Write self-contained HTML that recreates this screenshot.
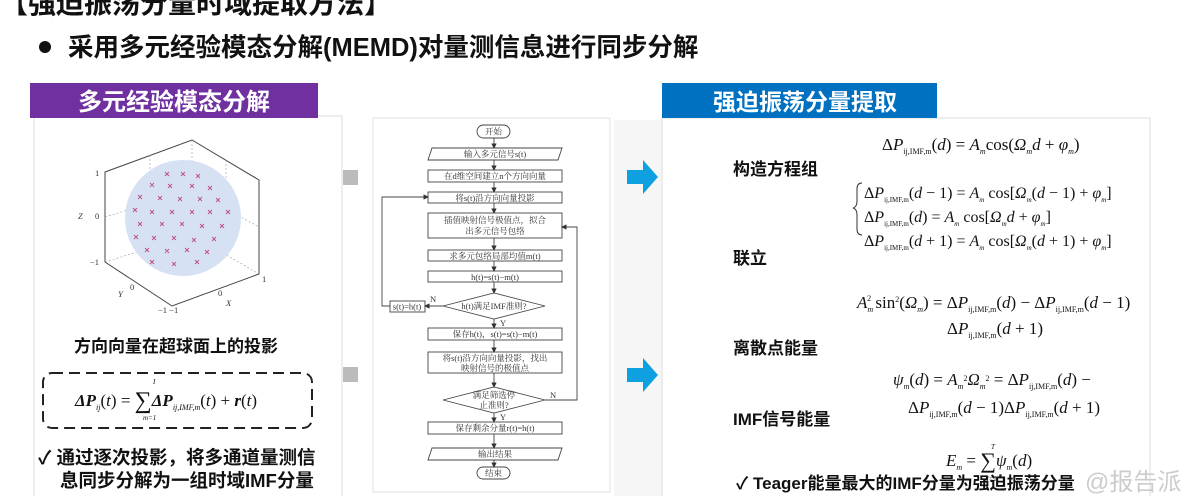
<!DOCTYPE html>
<html><head><meta charset="utf-8"><style>
body{margin:0;width:1200px;height:496px;overflow:hidden;background:#fff;font-family:"Liberation Sans","Noto Sans CJK SC",sans-serif;}
svg{display:block}
.b{font-family:"Liberation Sans","Noto Sans CJK SC",sans-serif;font-weight:bold;fill:#111}
.m{font-family:"Liberation Serif","Noto Serif CJK SC",serif;fill:#111}
.f{font-family:"Liberation Serif","Noto Serif CJK SC",serif;font-size:8.5px;fill:#333}
.bx{fill:#fff;stroke:#444;stroke-width:0.9}
.ln{stroke:#444;stroke-width:0.9;fill:none}
</style></head><body>
<svg width="1200" height="496" viewBox="0 0 1200 496" xmlns="http://www.w3.org/2000/svg">
<defs>
<marker id="ar" markerWidth="6" markerHeight="6" refX="5" refY="3" orient="auto"><path d="M0,0 L6,3 L0,6z" fill="#333"/></marker>
</defs>
<!-- header -->
<text class="b" x="0" y="13" font-size="28">【强迫振荡分量时域提取方法】</text>
<circle cx="45" cy="47" r="6" fill="#111"/>
<text class="b" x="68" y="56" font-size="25.5">采用多元经验模态分解(MEMD)对量测信息进行同步分解</text>

<!-- left panel -->
<rect x="34" y="116" width="308" height="385" fill="#fff" stroke="#ddd"/>
<rect x="30" y="83" width="288" height="35" fill="#7030a0"/>
<text x="174" y="110" text-anchor="middle" font-size="24" font-weight="bold" fill="#fff" font-family="Liberation Sans,Noto Sans CJK SC,sans-serif">多元经验模态分解</text>
<!-- cube -->
<g stroke="#444" stroke-width="1" fill="none">
<path d="M105,172 L192,140 L259,180 L259,274 L172,306 L105,262 Z"/>
</g>
<g stroke="#999" stroke-width="0.6" stroke-dasharray="2,2" fill="none">
<path d="M192,140 L192,235 L105,262 M192,235 L259,274 M150,155 L150,250 M226,160 L226,255 M105,217 L192,190 L259,227"/>
</g>
<circle cx="183" cy="218" r="58" fill="#d6e2f3"/>
<g stroke="#c05080" stroke-width="0.9" fill="none">
<path d="M165,172l4,4m0-4l-4,4 M181,172l4,4m0-4l-4,4 M196,174l4,4m0-4l-4,4 M150,183l4,4m0-4l-4,4 M168,184l4,4m0-4l-4,4 M190,184l4,4m0-4l-4,4 M208,186l4,4m0-4l-4,4 M138,195l4,4m0-4l-4,4 M158,196l4,4m0-4l-4,4 M178,197l4,4m0-4l-4,4 M198,197l4,4m0-4l-4,4 M216,198l4,4m0-4l-4,4 M133,208l4,4m0-4l-4,4 M150,210l4,4m0-4l-4,4 M170,210l4,4m0-4l-4,4 M190,210l4,4m0-4l-4,4 M208,210l4,4m0-4l-4,4 M226,210l4,4m0-4l-4,4 M138,222l4,4m0-4l-4,4 M160,222l4,4m0-4l-4,4 M180,222l4,4m0-4l-4,4 M200,224l4,4m0-4l-4,4 M220,224l4,4m0-4l-4,4 M134,235l4,4m0-4l-4,4 M152,236l4,4m0-4l-4,4 M172,236l4,4m0-4l-4,4 M192,238l4,4m0-4l-4,4 M212,237l4,4m0-4l-4,4 M145,248l4,4m0-4l-4,4 M165,249l4,4m0-4l-4,4 M185,248l4,4m0-4l-4,4 M205,250l4,4m0-4l-4,4 M150,260l4,4m0-4l-4,4 M172,262l4,4m0-4l-4,4 M195,260l4,4m0-4l-4,4"/>
</g>
<g class="f" font-size="9">
<text x="95" y="176">1</text><text x="95" y="219">0</text><text x="78" y="219" font-style="italic">Z</text>
<text x="90" y="265">−1</text><text x="262" y="282">1</text><text x="218" y="296">0</text><text x="226" y="306" font-style="italic">X</text>
<text x="130" y="290">0</text><text x="118" y="297" font-style="italic">Y</text><text x="158" y="313">−1 −1</text>
</g>
<text class="b" x="176" y="352" font-size="17" text-anchor="middle">方向向量在超球面上的投影</text>
<rect x="43" y="373" width="269" height="55" rx="9" fill="none" stroke="#222" stroke-width="2" stroke-dasharray="11,6"/>
<text class="m" x="75" y="406" font-size="17"><tspan font-weight="bold" font-style="italic">ΔP</tspan><tspan font-size="8" dy="4" font-style="italic">ij</tspan><tspan dy="-4">(</tspan><tspan font-style="italic">t</tspan>) = <tspan font-size="24" dy="2">∑</tspan><tspan dy="-2" font-weight="bold" font-style="italic">ΔP</tspan><tspan font-size="8" dy="4" font-style="italic">ij,IMF,m</tspan><tspan dy="-4">(</tspan><tspan font-style="italic">t</tspan>) + <tspan font-weight="bold" font-style="italic">r</tspan>(<tspan font-style="italic">t</tspan>)</text>
<text class="m" x="153" y="384" font-size="7" font-style="italic">I</text>
<text class="m" x="143" y="420" font-size="7" font-style="italic">m=1</text>
<text class="b" x="38" y="464" font-size="18.5">✓ 通过逐次投影，将多通道量测信</text>
<text class="b" x="60" y="487" font-size="18.5">息同步分解为一组时域IMF分量</text>

<rect x="343" y="170" width="15" height="15" fill="#bbb"/>
<rect x="343" y="367" width="15" height="15" fill="#bbb"/>

<!-- flowchart panel -->
<rect x="373" y="118" width="237" height="374" fill="#fff" stroke="#e2e2e2"/>
<g>
<rect class="bx" x="477" y="125" width="33" height="13" rx="6.5"/><text class="f" x="493.5" y="134.5" text-anchor="middle">开始</text>
<path class="bx" d="M432,148 L562,148 L558,160 L428,160Z"/><text class="f" x="495" y="157" text-anchor="middle">输入多元信号s(t)</text>
<rect class="bx" x="428" y="170" width="134" height="12"/><text class="f" x="495" y="179" text-anchor="middle">在d维空间建立n个方向向量</text>
<rect class="bx" x="428" y="192" width="134" height="11"/><text class="f" x="495" y="201" text-anchor="middle">将s(t)沿方向向量投影</text>
<rect class="bx" x="428" y="213" width="134" height="25"/><text class="f" x="495" y="223" text-anchor="middle">插值映射信号极值点，拟合</text><text class="f" x="495" y="234" text-anchor="middle">出多元信号包络</text>
<rect class="bx" x="428" y="250" width="134" height="11"/><text class="f" x="495" y="259" text-anchor="middle">求多元包络局部均值m(t)</text>
<rect class="bx" x="428" y="271" width="134" height="11"/><text class="f" x="495" y="280" text-anchor="middle">h(t)=s(t)−m(t)</text>
<path class="bx" d="M443,306 L494,293 L545,306 L494,319Z"/><text class="f" x="494" y="309" text-anchor="middle">h(t)满足IMF准则?</text>
<rect class="bx" x="390" y="301" width="35" height="11"/><text class="f" x="407" y="309.5" text-anchor="middle">s(t)=h(t)</text>
<rect class="bx" x="428" y="328" width="134" height="12"/><text class="f" x="495" y="337" text-anchor="middle">保存h(t)，s(t)=s(t)−m(t)</text>
<rect class="bx" x="428" y="352" width="134" height="21"/><text class="f" x="495" y="361" text-anchor="middle">将s(t)沿方向向量投影，找出</text><text class="f" x="495" y="371" text-anchor="middle">映射信号的极值点</text>
<path class="bx" d="M443,400 L494,387 L545,400 L494,413Z"/><text class="f" x="494" y="398" text-anchor="middle">满足筛选停</text><text class="f" x="494" y="408" text-anchor="middle">止准则?</text>
<rect class="bx" x="428" y="422" width="134" height="12"/><text class="f" x="495" y="431" text-anchor="middle">保存剩余分量r(t)=h(t)</text>
<path class="bx" d="M432,448 L562,448 L558,460 L428,460Z"/><text class="f" x="495" y="457" text-anchor="middle">输出结果</text>
<rect class="bx" x="477" y="467" width="33" height="12" rx="6"/><text class="f" x="493.5" y="476" text-anchor="middle">结束</text>
<g class="ln" marker-end="url(#ar)">
<path d="M494,138 V148"/><path d="M494,160 V170"/><path d="M494,182 V192"/><path d="M494,203 V213"/><path d="M494,238 V250"/><path d="M494,261 V271"/><path d="M494,282 V293"/><path d="M494,319 V328"/><path d="M494,340 V352"/><path d="M494,373 V387"/><path d="M494,413 V422"/><path d="M494,434 V448"/><path d="M494,460 V467"/>
<path d="M443,306 H425"/><path d="M390,306 H382 V197 H428"/><path d="M545,400 H577 V227 H562"/>
</g>
<text class="f" x="430" y="302">N</text><text class="f" x="500" y="326">Y</text><text class="f" x="550" y="398">N</text><text class="f" x="500" y="420">Y</text>
</g>

<!-- arrows -->
<rect x="614" y="120" width="48" height="376" fill="#f6f6f6"/>
<path d="M627,170 H643 V160 L658,177 L643,194 V184 H627Z" fill="#0ea0e0"/>
<path d="M627,368 H643 V358 L658,375 L643,392 V382 H627Z" fill="#0ea0e0"/>

<!-- right panel -->
<rect x="662" y="118" width="488" height="380" fill="#fff" stroke="#ddd"/>
<rect x="662" y="83" width="275" height="35" fill="#0070c0"/>
<text x="805" y="110" text-anchor="middle" font-size="23" font-weight="bold" fill="#fff" font-family="Liberation Sans,Noto Sans CJK SC,sans-serif">强迫振荡分量提取</text>
<text class="b" x="733" y="175" font-size="17">构造方程组</text>
<text class="b" x="733" y="264" font-size="17">联立</text>
<text class="b" x="733" y="354" font-size="17">离散点能量</text>
<text class="b" x="733" y="425" font-size="17">IMF信号能量</text>
<g class="m" font-size="17">
<text x="882" y="150">Δ<tspan font-style="italic">P</tspan><tspan font-size="8" dy="4">ij,IMF,m</tspan><tspan dy="-4">(</tspan><tspan font-style="italic">d</tspan>) = <tspan font-style="italic">A</tspan><tspan font-size="8" dy="4" font-style="italic">m</tspan><tspan dy="-4">cos(</tspan><tspan font-style="italic">Ω</tspan><tspan font-size="8" dy="4" font-style="italic">m</tspan><tspan dy="-4" font-style="italic">d</tspan> + <tspan font-style="italic">φ</tspan><tspan font-size="8" dy="4" font-style="italic">m</tspan><tspan dy="-4">)</tspan></text>
<path d="M862,183 q-5,0 -5,6 v12 q0,6 -4,7 q4,1 4,7 v14 q0,6 5,6" fill="none" stroke="#333" stroke-width="1"/>
<text x="864" y="198" font-size="16">Δ<tspan font-style="italic">P</tspan><tspan font-size="7" dy="4">ij,IMF,m</tspan><tspan dy="-4">(</tspan><tspan font-style="italic">d</tspan> − 1) = <tspan font-style="italic">A</tspan><tspan font-size="7" dy="4" font-style="italic">m</tspan><tspan dy="-4"> cos[</tspan><tspan font-style="italic">Ω</tspan><tspan font-size="7" dy="4" font-style="italic">m</tspan><tspan dy="-4">(</tspan><tspan font-style="italic">d</tspan> − 1) + <tspan font-style="italic">φ</tspan><tspan font-size="7" dy="4" font-style="italic">m</tspan><tspan dy="-4">]</tspan></text>
<text x="864" y="222" font-size="16">Δ<tspan font-style="italic">P</tspan><tspan font-size="7" dy="4">ij,IMF,m</tspan><tspan dy="-4">(</tspan><tspan font-style="italic">d</tspan>) = <tspan font-style="italic">A</tspan><tspan font-size="7" dy="4" font-style="italic">m</tspan><tspan dy="-4"> cos[</tspan><tspan font-style="italic">Ω</tspan><tspan font-size="7" dy="4" font-style="italic">m</tspan><tspan dy="-4" font-style="italic">d</tspan> + <tspan font-style="italic">φ</tspan><tspan font-size="7" dy="4" font-style="italic">m</tspan><tspan dy="-4">]</tspan></text>
<text x="864" y="246" font-size="16">Δ<tspan font-style="italic">P</tspan><tspan font-size="7" dy="4">ij,IMF,m</tspan><tspan dy="-4">(</tspan><tspan font-style="italic">d</tspan> + 1) = <tspan font-style="italic">A</tspan><tspan font-size="7" dy="4" font-style="italic">m</tspan><tspan dy="-4"> cos[</tspan><tspan font-style="italic">Ω</tspan><tspan font-size="7" dy="4" font-style="italic">m</tspan><tspan dy="-4">(</tspan><tspan font-style="italic">d</tspan> + 1) + <tspan font-style="italic">φ</tspan><tspan font-size="7" dy="4" font-style="italic">m</tspan><tspan dy="-4">]</tspan></text>
<text x="857" y="308"><tspan font-style="italic">A</tspan><tspan font-size="8" dy="4" font-style="italic">m</tspan><tspan font-size="8" dx="-6" dy="-11">2</tspan><tspan dy="7"> sin</tspan><tspan font-size="8" dy="-6">2</tspan><tspan dy="6">(</tspan><tspan font-style="italic">Ω</tspan><tspan font-size="8" dy="4" font-style="italic">m</tspan><tspan dy="-4">) = Δ</tspan><tspan font-style="italic">P</tspan><tspan font-size="8" dy="4">ij,IMF,m</tspan><tspan dy="-4">(</tspan><tspan font-style="italic">d</tspan>) − Δ<tspan font-style="italic">P</tspan><tspan font-size="8" dy="4">ij,IMF,m</tspan><tspan dy="-4">(</tspan><tspan font-style="italic">d</tspan> − 1)</text>
<text x="947" y="334">Δ<tspan font-style="italic">P</tspan><tspan font-size="8" dy="4">ij,IMF,m</tspan><tspan dy="-4">(</tspan><tspan font-style="italic">d</tspan> + 1)</text>
<text x="893" y="385"><tspan font-style="italic">ψ</tspan><tspan font-size="8" dy="4" font-style="italic">m</tspan><tspan dy="-4">(</tspan><tspan font-style="italic">d</tspan>) = <tspan font-style="italic">A</tspan><tspan font-size="8" dy="4" font-style="italic">m</tspan><tspan font-size="8" dy="-8">2</tspan><tspan dy="4" font-style="italic">Ω</tspan><tspan font-size="8" dy="4" font-style="italic">m</tspan><tspan font-size="8" dy="-8">2</tspan><tspan dy="4"> = Δ</tspan><tspan font-style="italic">P</tspan><tspan font-size="8" dy="4">ij,IMF,m</tspan><tspan dy="-4">(</tspan><tspan font-style="italic">d</tspan>) −</text>
<text x="908" y="413">Δ<tspan font-style="italic">P</tspan><tspan font-size="8" dy="4">ij,IMF,m</tspan><tspan dy="-4">(</tspan><tspan font-style="italic">d</tspan> − 1)Δ<tspan font-style="italic">P</tspan><tspan font-size="8" dy="4">ij,IMF,m</tspan><tspan dy="-4">(</tspan><tspan font-style="italic">d</tspan> + 1)</text>
<text x="946" y="466"><tspan font-style="italic">E</tspan><tspan font-size="8" dy="4" font-style="italic">m</tspan><tspan dy="-4"> = </tspan><tspan font-size="22" dy="2">∑</tspan><tspan dy="-2" font-style="italic">ψ</tspan><tspan font-size="8" dy="4" font-style="italic">m</tspan><tspan dy="-4">(</tspan><tspan font-style="italic">d</tspan>)</text>
<text x="991" y="449" font-size="7" font-style="italic">T</text>
<text x="985" y="481" font-size="7" font-style="italic">d=1</text>
</g>
<text class="b" x="736" y="489" font-size="17">✓ Teager能量最大的IMF分量为强迫振荡分量</text>
<text x="1085" y="490" font-size="24" fill="#ccc" font-family="Liberation Sans,Noto Sans CJK SC,sans-serif">@报告派</text>
</svg>
</body></html>
